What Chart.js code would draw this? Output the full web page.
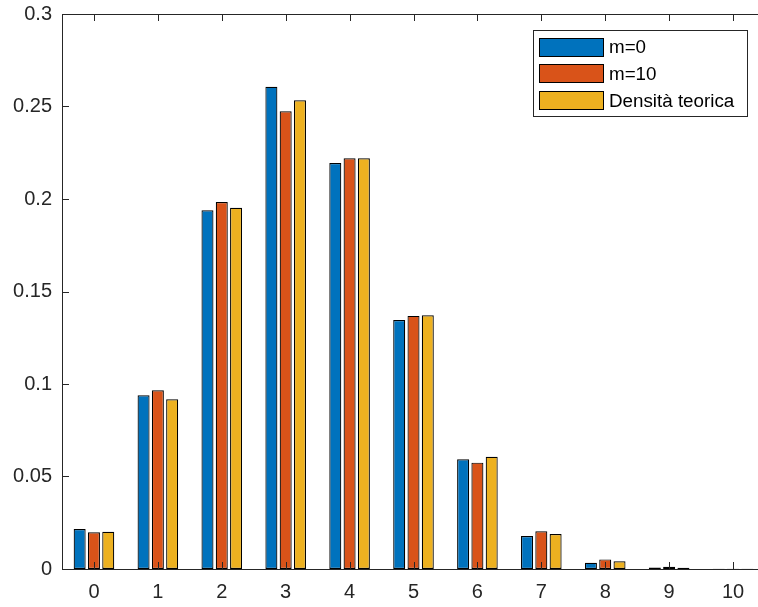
<!DOCTYPE html>
<html>
<head>
<meta charset="utf-8">
<script src="https://cdn.jsdelivr.net/npm/chart.js@4"></script>
<style>
  html, body { margin: 0; padding: 0; background: #fff; overflow: hidden; }
  #wrap { position: absolute; left: 0; top: 0; width: 770px; height: 607px; }
</style>
</head>
<body>
<div id="wrap"><canvas id="c" width="770" height="607"></canvas></div>
<script>
// Outcome categories on the x axis
const categories = ['0', '1', '2', '3', '4', '5', '6', '7', '8', '9', '10'];

// Relative frequencies per outcome
const seriesM0 = [0.0216, 0.0939, 0.1939, 0.2607, 0.2195, 0.1346, 0.0593, 0.0178, 0.0034, 0.0008, 0.0001];
const seriesM10 = [0.0198, 0.0966, 0.1984, 0.2474, 0.2220, 0.1368, 0.0575, 0.0204, 0.0052, 0.0012, 0.0001];
const seriesTheory = [0.0201, 0.0917, 0.1953, 0.2534, 0.2220, 0.1371, 0.0607, 0.0189, 0.0042, 0.0007, 0.0001];

// Series names
const seriesNames = ['m=0', 'm=10', 'Densità teorica'];

// Y axis tick values and their labels
const yTickValues = [0, 0.05, 0.1, 0.15, 0.2, 0.25, 0.3];
const yTickLabels = ['0', '0.05', '0.1', '0.15', '0.2', '0.25', '0.3'];

const AXIS_COLOR = '#262626';
const FONT = '"Liberation Sans", Arial, Helvetica, sans-serif';
const TICK_FONT_SIZE = 20;
const LEGEND_FONT_SIZE = 18.8;
const TICK_LEN = 7;

// Axes box with inward tick marks, drawn over the bars
const axesBox = {
  id: 'axesBox',
  afterDatasetsDraw(chart) {
    const { ctx, chartArea: a, scales } = chart;
    ctx.save();
    ctx.strokeStyle = AXIS_COLOR;
    ctx.lineWidth = 1;
    ctx.beginPath();
    ctx.moveTo(a.left + 0.5, a.top + 0.5);
    ctx.lineTo(a.left + 0.5, a.bottom + 0.5);
    ctx.lineTo(a.right + 0.5, a.bottom + 0.5);
    ctx.lineTo(a.right + 0.5, a.top + 0.5);
    ctx.lineTo(a.left + 0.5, a.top + 0.5);
    yTickValues.forEach(v => {
      const y = Math.round(scales.y.getPixelForValue(v)) + 0.5;
      ctx.moveTo(a.left, y); ctx.lineTo(a.left + TICK_LEN, y);
      ctx.moveTo(a.right, y); ctx.lineTo(a.right - TICK_LEN, y);
    });
    categories.forEach((c, i) => {
      const x = Math.round(scales.x.getPixelForTick(i)) + 0.5;
      ctx.moveTo(x, a.bottom); ctx.lineTo(x, a.bottom - TICK_LEN);
      ctx.moveTo(x, a.top); ctx.lineTo(x, a.top + TICK_LEN);
    });
    ctx.stroke();
    ctx.restore();
  }
};

// Boxed legend in the upper right of the plot
const boxLegend = {
  id: 'boxLegend',
  afterDraw(chart) {
    const { ctx } = chart;
    const left = 533, top = 30, right = 747, bottom = 116;
    ctx.save();
    ctx.fillStyle = '#fff';
    ctx.fillRect(left, top, right - left, bottom - top);
    ctx.strokeStyle = AXIS_COLOR;
    ctx.lineWidth = 1;
    ctx.strokeRect(left + 0.5, top + 0.5, right - left, bottom - top);
    ctx.font = LEGEND_FONT_SIZE + 'px ' + FONT;
    ctx.textBaseline = 'middle';
    chart.data.datasets.forEach((ds, i) => {
      const cy = 47 + i * 26.7;
      const sx = 539, sw = 65, sh = 19;
      ctx.fillStyle = ds.backgroundColor;
      ctx.fillRect(sx, Math.round(cy - sh / 2), sw, sh);
      ctx.strokeStyle = '#000';
      ctx.strokeRect(sx + 0.5, Math.round(cy - sh / 2) + 0.5, sw - 1, sh - 1);
      ctx.fillStyle = '#000';
      ctx.fillText(ds.label, 609, cy + 1);
    });
    ctx.restore();
  }
};

const chart = new Chart(document.getElementById('c'), {
  type: 'bar',
  data: {
    labels: categories,
    datasets: [
      { label: seriesNames[0], data: seriesM0, backgroundColor: '#0072BD' },
      { label: seriesNames[1], data: seriesM10, backgroundColor: '#D95319' },
      { label: seriesNames[2], data: seriesTheory, backgroundColor: '#EDB120' }
    ].map(d => Object.assign(d, {
      borderColor: '#000',
      borderWidth: 1.2,
      borderSkipped: false,
      categoryPercentage: 0.671,
      barPercentage: 0.84
    }))
  },
  options: {
    responsive: false,
    animation: false,
    layout: { padding: { top: 14, right: 5, left: 0, bottom: 0 } },
    plugins: { legend: { display: false }, tooltip: { enabled: false } },
    scales: {
      x: {
        offset: true,
        grid: { display: false, drawTicks: false },
        border: { display: false },
        ticks: { color: AXIS_COLOR, font: { family: FONT, size: TICK_FONT_SIZE }, padding: 11, maxRotation: 0 },
        afterFit(s) { s.height = 38; s.paddingLeft = 0; s.paddingRight = 0; }
      },
      y: {
        min: 0,
        max: 0.3,
        grid: { display: false, drawTicks: false },
        border: { display: false },
        afterBuildTicks(s) { s.ticks = yTickValues.map(v => ({ value: v })); },
        ticks: {
          color: AXIS_COLOR,
          font: { family: FONT, size: TICK_FONT_SIZE },
          padding: 10,
          callback: (v, i) => yTickLabels[i]
        },
        afterFit(s) { s.width = 62; s.paddingTop = 0; s.paddingBottom = 0; }
      }
    }
  },
  plugins: [axesBox, boxLegend]
});
</script>
</body>
</html>
